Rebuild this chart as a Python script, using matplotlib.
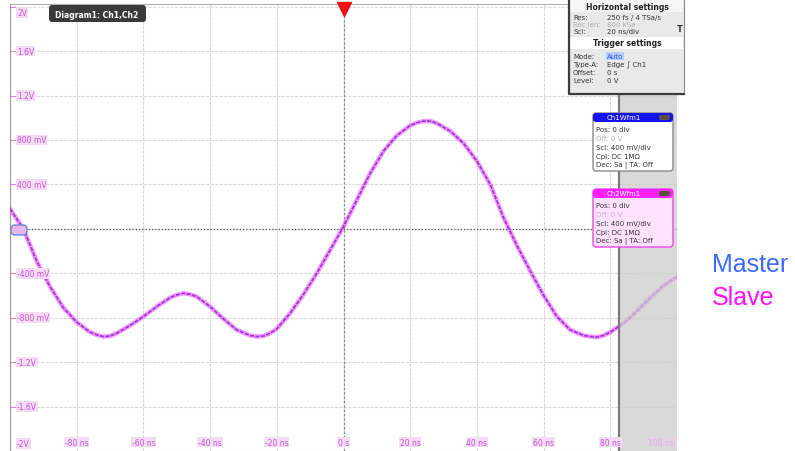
import numpy as np
import matplotlib
matplotlib.use("Agg")
import matplotlib.pyplot as plt
from matplotlib.patches import FancyBboxPatch, Rectangle

# time axis in ns, values in volts
t_ns = [-100, -96, -92, -88, -84, -80, -76, -74, -72, -70, -68, -64, -60, -56,
        -52, -50, -48, -46, -44, -40, -36, -32, -28, -26, -24, -22, -20, -16,
        -12, -8, -4, 0, 4, 8, 12, 16, 20, 22, 24, 26, 28, 32, 36, 40, 44, 48,
        52, 56, 60, 64, 68, 72, 74, 76, 78, 80, 84, 88, 92, 96, 100]
master_v = [0.18, 0.0, -0.29, -0.52, -0.71, -0.84, -0.93, -0.955, -0.97,
            -0.965, -0.94, -0.87, -0.79, -0.70, -0.62, -0.595, -0.58, -0.59,
            -0.61, -0.70, -0.81, -0.91, -0.96, -0.97, -0.965, -0.94, -0.90,
            -0.76, -0.59, -0.40, -0.19, 0.02, 0.26, 0.50, 0.70, 0.84, 0.93,
            0.955, 0.97, 0.97, 0.95, 0.88, 0.77, 0.61, 0.40, 0.10, -0.15,
            -0.38, -0.60, -0.79, -0.91, -0.96, -0.97, -0.975, -0.96, -0.93,
            -0.85, -0.74, -0.62, -0.51, -0.43]
slave_v = list(master_v)

x_ticks = [-80, -60, -40, -20, 0, 20, 40, 60, 80, 100]
x_labels = ["-80 ns", "-60 ns", "-40 ns", "-20 ns", "0 s", "20 ns", "40 ns",
            "60 ns", "80 ns", "100 ns"]
y_ticks = [2.0, 1.6, 1.2, 0.8, 0.4, -0.4, -0.8, -1.2, -1.6, -2.0]
y_labels = ["2V", "1.6V", "1.2V", "800 mV", "400 mV", "-400 mV", "-800 mV",
            "-1.2V", "-1.6V", "-2V"]
hold_off_start = 82.7  # greyed area at right

W, H = 795, 452
fig = plt.figure(figsize=(W / 100, H / 100), dpi=100)
fig.patch.set_facecolor("white")

ax = fig.add_axes([10 / W, 0, 667 / W, 447 / H])
ax.set_xlim(-100, 100)
ax.set_ylim(-1.985, 2.024)
ax.set_xticks(np.arange(-100, 101, 20))
ax.set_yticks(np.arange(-2.0, 2.01, 0.4))
ax.grid(True, color="#dadada", lw=0.8, ls=(0, (3, 1)))
ax.tick_params(labelleft=False, labelbottom=False, bottom=False,
               left=True, direction="in", length=4, color="#d58ad8")
for side in ["bottom", "right"]:
    ax.spines[side].set_visible(False)
ax.spines["left"].set_color("#9a9a9a")
ax.spines["top"].set_color("#b0b0b0")

ax.axhline(0, xmin=18 / 667, color="#555555", lw=0.9, ls=(0, (1, 1.6)), zorder=2)
ax.axvline(0, color="#8c8c8c", lw=0.9, ls=(0, (2, 1.5)), zorder=2)

ax.plot(t_ns, slave_v, color="#ff3cff", lw=3.2, alpha=0.55, zorder=3,
        solid_joinstyle="round")
ax.plot(t_ns, master_v, color="#7a34cc", lw=1.2, alpha=0.9, zorder=4,
        ls=(0, (2.5, 0.8)))

ax.axvspan(hold_off_start, 100, color="#cdcdcd", alpha=0.75, zorder=5, lw=0)
ax.axvline(hold_off_start, color="#7a7a7a", lw=1.6, zorder=6)

lab_style = dict(fontsize=5.5, color="#c45ad0", zorder=7,
                 bbox=dict(facecolor="#f4dcf4", edgecolor="none", pad=0.6))
for v, s in zip(y_ticks, y_labels):
    ax.text(-97.9, min(max(v, -1.93), 1.95), s, ha="left", va="center",
            transform=ax.transData, **lab_style)
for x, s in zip(x_ticks, x_labels):
    if x == 100:
        ax.text(99, -1.92, s, ha="right", va="center", fontsize=5.5,
                color="#d8b8dc", zorder=7,
                bbox=dict(facecolor="#e2d2e2", edgecolor="none", pad=0.6))
    else:
        ax.text(x, -1.92, s, ha="center", va="center", **lab_style)

# overlay in screen pixels for the instrument panels
ov = fig.add_axes([0, 0, 1, 1], zorder=10)
ov.set_xlim(0, W)
ov.set_ylim(H, 0)
ov.axis("off")
ov.patch.set_alpha(0)

# channel offset marker
ov.add_patch(FancyBboxPatch((11, 226), 16, 10, boxstyle="round,pad=0,rounding_size=4",
                            facecolor="#e8b8e8", edgecolor="#6c86d6", lw=1))

# diagram tab
ov.add_patch(FancyBboxPatch((49, 6), 97, 17, boxstyle="round,pad=0,rounding_size=3",
                            facecolor="#3a3a3a", edgecolor="none"))
ov.text(97, 15, "Diagram1: Ch1,Ch2", color="white", fontsize=5.5,
        fontweight="bold", ha="center", va="center")

# trigger position marker
ov.plot([344], [10], marker="v", markersize=10, color="#ee1111", clip_on=False)

# horizontal / trigger settings panel
ov.add_patch(Rectangle((569, 0), 115, 95, facecolor="#e9e9e9",
                       edgecolor="#8a8a8a", lw=0.8))
ov.plot([569, 569, 684], [0, 95, 95], color="#3c3c3c", lw=1.6)
ov.add_patch(Rectangle((570, 1), 113, 12, facecolor="#f6f6f6", edgecolor="none"))
ov.add_patch(Rectangle((570, 38), 113, 12, facecolor="#ffffff", edgecolor="none"))
ov.text(627, 7, "Horizontal settings", fontsize=5.5, fontweight="bold",
        ha="center", va="center", color="#222222")
ov.text(627, 44, "Trigger settings", fontsize=5.5, fontweight="bold",
        ha="center", va="center", color="#222222")
rows = [(18, "Res:", "250 fs / 4 TSa/s", "#333333"),
        (25, "Rec len:", "800 kSa", "#aaaaaa"),
        (32, "Scl:", "20 ns/div", "#333333"),
        (57, "Mode:", "Auto", "#2d5ad6"),
        (65, "Type-A:", "Edge \u222b Ch1", "#333333"),
        (73, "Offset:", "0 s", "#333333"),
        (81, "Level:", "0 V", "#333333")]
for y, k, v, c in rows:
    kc = "#aaaaaa" if k == "Rec len:" else "#333333"
    ov.text(573, y, k, fontsize=5, ha="left", va="center", color=kc)
    if k == "Mode:":
        ov.text(607, y, v, fontsize=5, ha="left", va="center", color=c,
                bbox=dict(facecolor="#b4ccff", edgecolor="none", pad=0.5))
    else:
        ov.text(607, y, v, fontsize=5, ha="left", va="center", color=c)
ov.text(680, 30, "T", fontsize=6, fontweight="bold", ha="center", va="center",
        color="#333333")


def channel_box(y0, name, head, body, edge, grey_off):
    ov.add_patch(FancyBboxPatch((593, y0), 80, 58, boxstyle="round,pad=0,rounding_size=3",
                                facecolor=body, edgecolor=edge, lw=1))
    ov.add_patch(FancyBboxPatch((593, y0), 80, 9, boxstyle="round,pad=0,rounding_size=3",
                                facecolor=head, edgecolor="none"))
    ov.add_patch(FancyBboxPatch((659, y0 + 2), 11, 5, boxstyle="round,pad=0,rounding_size=1.5",
                                facecolor="#5a5040", edgecolor="none"))
    ov.text(624, y0 + 4.5, name, fontsize=5, color="white", ha="center", va="center")
    lines = ["Pos: 0 div", "Off: 0 V", "Scl: 400 mV/div", "Cpl: DC 1M\u03a9",
             "Dec: Sa | TA: Off"]
    for i, s in enumerate(lines):
        col = grey_off if i == 1 else "#333333"
        ov.text(596, y0 + 16 + i * 9, s, fontsize=5, ha="left", va="center", color=col)


channel_box(114, "Ch1Wfm1", "#1414f0", "#ffffff", "#8a8a8a", "#b0b0b0")
channel_box(190, "Ch2Wfm1", "#ff22ff", "#ffe2ff", "#ee44ee", "#d8a8d8")

fig.text(712 / W, 1 - 272 / H, "Master", fontsize=18, color="#3b6cff",
         family="Liberation Sans", va="baseline")
fig.text(712 / W, 1 - 305 / H, "Slave", fontsize=18, color="#ff10ff",
         family="Liberation Sans", va="baseline")

fig.savefig("out.png", dpi=100)
